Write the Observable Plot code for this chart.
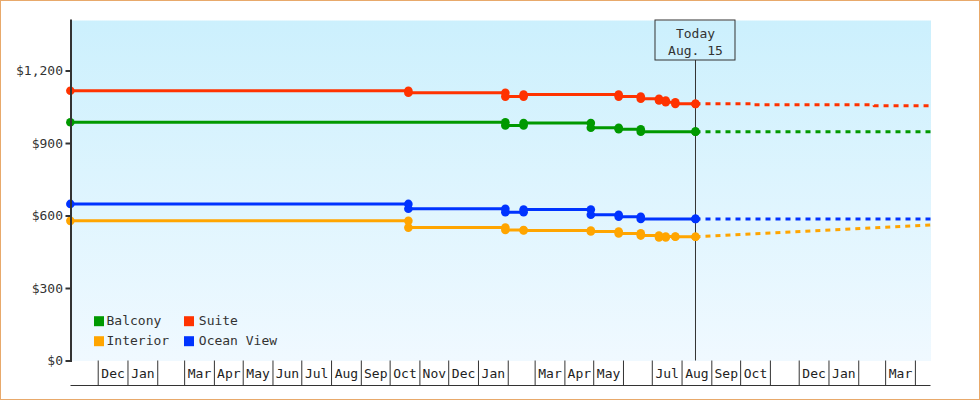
<!DOCTYPE html>
<html>
<head>
<meta charset="utf-8">
<script src="https://cdn.jsdelivr.net/npm/d3@7"></script>
<script src="https://cdn.jsdelivr.net/npm/@observablehq/plot@0.6"></script>
<style>
  body { margin: 0; background: #fff; }
  #wrap { position: relative; width: 980px; height: 400px; overflow: hidden; }
  #border { position: absolute; left: 0; top: 0; width: 980px; height: 400px; box-sizing: border-box; border: 1px solid #e8a96b; pointer-events: none; }
</style>
</head>
<body>
<div id="wrap"><div id="chart"></div><div id="border"></div></div>
<script>
// ---- Data ----
const seriesNames = ["Balcony", "Suite", "Interior", "Ocean View"];
const seriesColors = ["#009900", "#ff3300", "#ffa500", "#0033ff"];

const balconyDates  = ["2016-11-02", "2018-01-29", "2018-02-17", "2018-04-28", "2018-05-27", "2018-06-19", "2018-08-15"];
const balconyPrices = [988, 975, 985, 965, 959, 949, 949];

const suiteDates  = ["2016-11-02", "2017-10-20", "2018-01-29", "2018-02-17", "2018-05-27", "2018-06-19", "2018-07-08", "2018-07-15", "2018-07-25", "2018-08-15"];
const suitePrices = [1118, 1110, 1094, 1103, 1094, 1085, 1078, 1071, 1064, 1064];

const interiorDates  = ["2016-11-02", "2017-10-20", "2018-01-29", "2018-02-17", "2018-04-28", "2018-05-27", "2018-06-19", "2018-07-08", "2018-07-15", "2018-07-25", "2018-08-15"];
const interiorPrices = [580, 552, 542, 540, 536, 528, 519, 511, 515, 514, 514];

const oceanDates  = ["2016-11-02", "2017-10-20", "2018-01-29", "2018-02-17", "2018-04-28", "2018-05-27", "2018-06-19", "2018-08-15"];
const oceanPrices = [650, 630, 616, 627, 605, 597, 588, 588];

// forecasts (dotted, after today)
const balconyForecastDates  = ["2018-08-15", "2019-04-17"];
const balconyForecastPrices = [949, 949];
const suiteForecastDates  = ["2018-08-15", "2018-10-12", "2018-10-12", "2019-02-17", "2019-02-17", "2019-04-17"];
const suiteForecastPrices = [1064, 1064, 1060, 1060, 1056, 1056];
const interiorForecastDates  = ["2018-08-15", "2019-04-17"];
const interiorForecastPrices = [514, 563];
const oceanForecastDates  = ["2018-08-15", "2019-04-17"];
const oceanForecastPrices = [588, 588];

const todayDate = "2018-08-15";
const todayLabel = ["Today", "Aug. 15"];

const xStart = "2016-11-02T16:00Z";
const xEnd = "2019-04-17T06:00Z";
const yMax = 1409;
const yTicks = [0, 300, 600, 900, 1200];

const firstMonth = "2016-12-01";
const monthLabels = ["Dec", "Jan", "", "Mar", "Apr", "May", "Jun", "Jul", "Aug", "Sep", "Oct", "Nov",
                     "Dec", "Jan", "", "Mar", "Apr", "May", "", "Jul", "Aug", "Sep", "Oct", "",
                     "Dec", "Jan", "", "Mar"];

// ---- Build tables ----
const series = [
  {name: seriesNames[0], color: seriesColors[0], dates: balconyDates, prices: balconyPrices, fd: balconyForecastDates, fp: balconyForecastPrices},
  {name: seriesNames[1], color: seriesColors[1], dates: suiteDates, prices: suitePrices, fd: suiteForecastDates, fp: suiteForecastPrices},
  {name: seriesNames[2], color: seriesColors[2], dates: interiorDates, prices: interiorPrices, fd: interiorForecastDates, fp: interiorForecastPrices},
  {name: seriesNames[3], color: seriesColors[3], dates: oceanDates, prices: oceanPrices, fd: oceanForecastDates, fp: oceanForecastPrices}
];
const toDate = s => new Date(s.length === 10 ? s + "T00:00Z" : s);

const monthStarts = d3.utcMonth.range(toDate(firstMonth), d3.utcMonth.offset(toDate(firstMonth), monthLabels.length + 1));
const cells = monthLabels.map((label, i) => ({
  mid: new Date((monthStarts[i].getTime() + monthStarts[i + 1].getTime()) / 2),
  label
}));

const today = [toDate(todayDate)];

const marks = [];
marks.push(Plot.frame({fill: "url(#bgGrad)", stroke: "none"}));
marks.push(Plot.ruleX(today, {x: d => d, insetTop: 40, stroke: "#333", strokeWidth: 1}));

for (const s of series) {
  const rows = s.dates.map((d, i) => ({date: toDate(d), price: s.prices[i]}));
  const frows = s.fd.map((d, i) => ({date: toDate(d), price: s.fp[i]}));
  const dots = [rows[0]];
  for (let i = 1; i < rows.length; i++) {
    dots.push({date: rows[i].date, price: rows[i - 1].price});
    dots.push(rows[i]);
  }
  marks.push(Plot.line(frows, {x: "date", y: "price", stroke: s.color, strokeWidth: 3, strokeDasharray: "5,5", strokeLinecap: "butt"}));
  marks.push(Plot.line(rows, {x: "date", y: "price", curve: "step-after", stroke: s.color, strokeWidth: 3}));
  marks.push(Plot.dot(dots, {x: "date", y: "price", r: 4.3, fill: s.color, stroke: "none"}));
}

// Today box
marks.push(Plot.rect(today, {x1: d => d, x2: d => d, insetLeft: -40, insetRight: -40, insetBottom: 300.5, fill: "none", stroke: "#333", strokeWidth: 1}));
marks.push(Plot.text(today, {x: d => d, text: () => todayLabel.join("\n"), frameAnchor: "top", lineAnchor: "middle", dy: 20.75, lineHeight: 1.33, fill: "#333", fontSize: 13}));

// Axes
marks.push(Plot.frame({anchor: "left", stroke: "#333", strokeWidth: 2}));
marks.push(Plot.axisY({ticks: yTicks, tickSize: 5, tickPadding: 3, tickFormat: d => "$" + d3.format(",")(d), strokeWidth: 2, fontSize: 13, fill: "#333", label: null}));
marks.push(Plot.axisX({ticks: monthStarts, tickSize: 24.5, tickFormat: () => "", stroke: "#333", strokeWidth: 1, label: null}));
marks.push(Plot.ruleY([0], {dy: 24.5, stroke: "#333", strokeWidth: 1}));
marks.push(Plot.text(cells, {x: "mid", text: "label", frameAnchor: "bottom", lineAnchor: "middle", dy: 12.5, fontSize: 13, fill: "#222"}));

// Legend (inside plot, bottom-left)
seriesNames.forEach((name, i) => {
  const col = i % 2, row = Math.floor(i / 2);
  marks.push(Plot.dot([0], {frameAnchor: "bottom-left", dx: 28 + col * 90, dy: -39.8 + row * 20, symbol: "square", r: 5.64, fill: seriesColors[i], stroke: "none"}));
  marks.push(Plot.text([name], {frameAnchor: "bottom-left", lineAnchor: "middle", dx: 35.5 + col * 92.3, dy: -39.8 + row * 20, text: d => d, textAnchor: "start", fontSize: 13, fill: "#333"}));
});

const chart = Plot.plot({
  width: 980,
  height: 400,
  marginLeft: 70.5,
  marginRight: 49.5,
  marginTop: 20,
  marginBottom: 39.5,
  style: {fontFamily: "'DejaVu Sans Mono', monospace", fontSize: "13px", color: "#333", background: "transparent", overflow: "visible"},
  x: {type: "utc", domain: [toDate(xStart), toDate(xEnd)], label: null},
  y: {domain: [0, yMax], label: null},
  marks
});

// gradient definition for the plot background
const ns = "http://www.w3.org/2000/svg";
const defs = document.createElementNS(ns, "defs");
const grad = document.createElementNS(ns, "linearGradient");
grad.setAttribute("id", "bgGrad");
grad.setAttribute("x1", "0"); grad.setAttribute("y1", "0");
grad.setAttribute("x2", "0"); grad.setAttribute("y2", "1");
[["0%", "#ccf0fd"], ["100%", "#f0f9ff"]].forEach(([o, c]) => {
  const st = document.createElementNS(ns, "stop");
  st.setAttribute("offset", o); st.setAttribute("stop-color", c);
  grad.appendChild(st);
});
defs.appendChild(grad);
chart.insertBefore(defs, chart.firstChild);

document.getElementById("chart").appendChild(chart);
</script>
</body>
</html>
